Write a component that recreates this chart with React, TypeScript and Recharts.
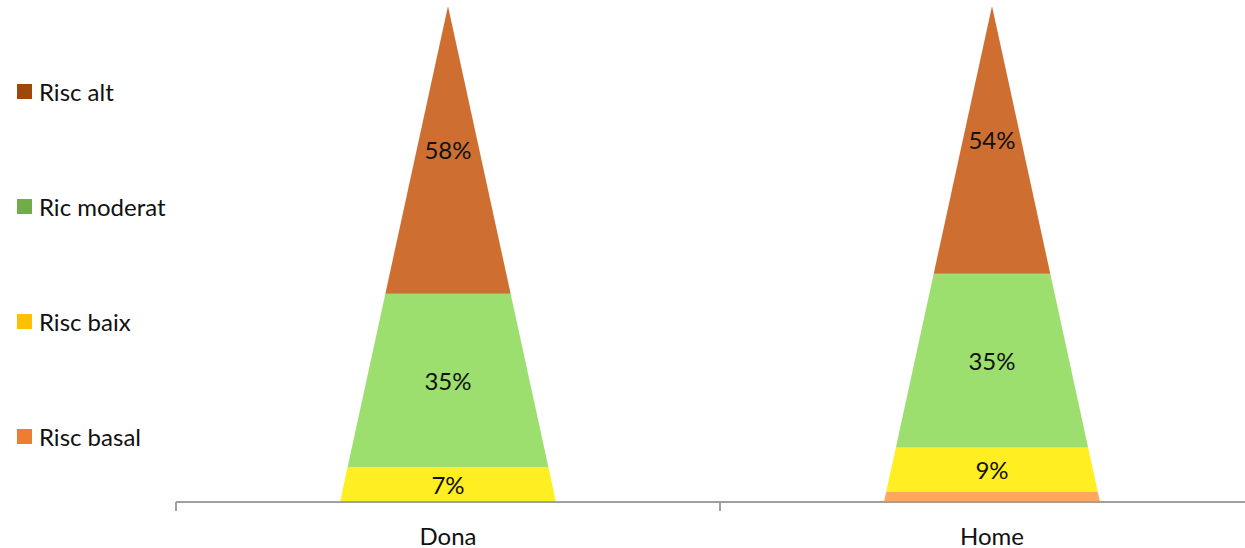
import React from 'react'
import { Bar, BarChart, LabelList, XAxis, YAxis } from 'recharts'

const groups = ['Dona', 'Home']
const basal = [0, 2]
const baix = [7, 9]
const moderat = [35, 35]
const alt = [58, 54]

const series = [
  { key: 'basal', name: 'Risc basal', fill: '#FFA75C', legend: '#ED7D31' },
  { key: 'baix', name: 'Risc baix', fill: '#FFEE22', legend: '#FFC000' },
  { key: 'moderat', name: 'Ric moderat', fill: '#9DDF6F', legend: '#70AD47' },
  { key: 'alt', name: 'Risc alt', fill: '#CE6F31', legend: '#9E480E' },
]

const data = groups.map((g, i) => ({
  group: g,
  basal: basal[i],
  baix: baix[i],
  moderat: moderat[i],
  alt: alt[i],
}))

const W = 1264
const H = 548
const PLOT_LEFT = 176
const PLOT_TOP = 6
const AXIS_H = 46
const BAR = 216
const FONT = 'Lato, "Open Sans", sans-serif'
const FS = 24
const half = (W - PLOT_LEFT) / groups.length / 2

// one slice of the pyramid: width shrinks linearly towards the apex at 100%
function Slice(props: any) {
  const { x, y, width, height, fill, background } = props
  if (!height || height <= 0) return null
  const top = background ? background.y : PLOT_TOP
  const full = background ? background.height : H - AXIS_H - PLOT_TOP
  const cx = x + width / 2
  const wAt = (py: number) => (BAR * (py - top)) / full
  const y0 = y
  const y1 = y + height
  const t = wAt(y0) / 2
  const b = wAt(y1) / 2
  const d = `M${cx - t},${y0} L${cx + t},${y0} L${cx + b},${y1} L${cx - b},${y1} Z`
  return <path d={d} fill={fill} />
}

function Tick(props: any) {
  const { x, y, payload } = props
  return (
    <g>
      <line x1={x - half} x2={x - half} y1={y - 8} y2={y + 1} stroke="#A0A0A0" strokeWidth={2} />
      <text x={x} y={y + 25} textAnchor="middle" dominantBaseline="central" fontSize={FS} fill="#111" fontFamily={FONT}>
        {payload.value}
      </text>
    </g>
  )
}

function pct(props: any) {
  const { x, y, width, height, value } = props
  if (value < 5) return null
  return (
    <text
      x={x + width / 2}
      y={y + height / 2}
      textAnchor="middle"
      dominantBaseline="central"
      fontSize={FS}
      fill="#111"
      fontFamily={FONT}
    >
      {value}%
    </text>
  )
}

function LegendBox() {
  const items = [...series].reverse()
  return (
    <div style={{ position: 'absolute', left: 0, top: 0, width: 175, height: 470 }}>
      {items.map((s, i) => (
        <div
          key={s.key}
          style={{
            position: 'absolute',
            left: 17,
            top: 91 + i * 115.3 - 15,
            height: 30,
            display: 'flex',
            alignItems: 'center',
            fontFamily: FONT,
            fontSize: FS,
            color: '#111',
            whiteSpace: 'nowrap',
          }}
        >
          <span style={{ width: 15, height: 15, background: s.legend, display: 'inline-block', marginRight: 7 }} />
          {s.name}
        </div>
      ))}
    </div>
  )
}

export default function App() {
  return (
    <div style={{ position: 'absolute', left: 0, top: 0, width: 1245, height: H, overflow: 'hidden', background: '#fff' }}>
      <BarChart
        width={W}
        height={H}
        data={data}
        margin={{ top: PLOT_TOP, right: 0, bottom: 0, left: PLOT_LEFT }}
        barSize={BAR}
      >
        <XAxis
          dataKey="group"
          height={AXIS_H}
          axisLine={{ stroke: '#A0A0A0', strokeWidth: 2 }}
          tickLine={false}
          tick={<Tick />}
          interval={0}
        />
        <YAxis hide domain={[0, 100]} type="number" allowDataOverflow />
        {series.map((s) => (
          <Bar key={s.key} dataKey={s.key} name={s.name} stackId="p" fill={s.fill} shape={<Slice />} isAnimationActive={false}>
            <LabelList dataKey={s.key} content={pct} />
          </Bar>
        ))}
      </BarChart>
      <LegendBox />
    </div>
  )
}
